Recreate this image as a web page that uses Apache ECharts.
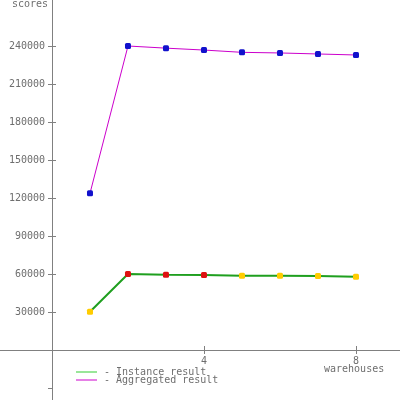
<!DOCTYPE html>
<html>
<head>
<meta charset="utf-8">
<script src="https://cdn.jsdelivr.net/npm/echarts@6/dist/echarts.min.js"></script>
<style>html,body{margin:0;padding:0;background:#fff}#c{width:400px;height:400px}</style>
</head>
<body>
<div id="c"></div>
<script>
var warehouses = [1, 2, 3, 4, 5, 6, 7, 8];
var instanceResult = [30200, 60000, 59500, 59200, 58700, 58700, 58400, 57900];
var aggregatedResult = [123700, 240000, 238300, 236800, 235000, 234500, 233700, 232900];
var yTickValues = [-30000, 30000, 60000, 90000, 120000, 150000, 180000, 210000, 240000];
var yLabelValues = [30000, 60000, 90000, 120000, 150000, 180000, 210000, 240000];
var xTickValues = [4, 8];
var seriesNames = ['Instance result', 'Aggregated result'];

function pairs(xs, ys) { return xs.map(function (x, i) { return [x, ys[i]]; }); }

var font = 'DejaVu Sans Mono';
var gray = '#808080';
var txt = '#6e6e6e';
var X_MIN = -1.368, X_MAX = 9.158, Y_MIN = -39474, Y_MAX = 276316;
var chart = echarts.init(document.getElementById('c'), null, {renderer: 'canvas'});

chart.setOption({
  animation: false,
  backgroundColor: '#ffffff',
  grid: [
    {left: 0, right: 0, top: 0, bottom: 0, containLabel: false, outerBoundsMode: 'none'},
    {left: 52, right: 0, top: 0, bottom: 50, containLabel: false, outerBoundsMode: 'none'}
  ],
  xAxis: [{
    gridIndex: 0, type: 'value', min: X_MIN, max: X_MAX, position: 'bottom',
    axisLine: {onZero: true, lineStyle: {color: gray, width: 1}},
    axisTick: {show: true, length: 4, customValues: xTickValues, lineStyle: {color: gray}},
    axisLabel: {show: false},
    splitLine: {show: false}
  }, {
    gridIndex: 1, type: 'value', min: 0, max: X_MAX, position: 'bottom',
    axisLine: {show: false, onZero: false},
    axisTick: {show: true, inside: true, length: 4, customValues: xTickValues, lineStyle: {color: gray}},
    axisLabel: {show: true, customValues: xTickValues, margin: 6, color: txt, fontFamily: font, fontSize: 10,
      formatter: function (v) { return String(v); }},
    splitLine: {show: false}
  }],
  yAxis: [{
    gridIndex: 0, type: 'value', min: Y_MIN, max: Y_MAX, position: 'left',
    axisLine: {onZero: true, lineStyle: {color: gray, width: 1}},
    axisTick: {show: true, length: 4, customValues: yTickValues, lineStyle: {color: gray}},
    axisLabel: {show: false},
    splitLine: {show: false}
  }, {
    gridIndex: 1, type: 'value', min: 0, max: Y_MAX, position: 'left',
    axisLine: {show: false, onZero: false},
    axisTick: {show: true, inside: true, length: 4, customValues: yLabelValues, lineStyle: {color: gray}},
    axisLabel: {show: true, customValues: yLabelValues, margin: 7, color: txt, fontFamily: font, fontSize: 10,
      formatter: function (v) { return String(v); }},
    splitLine: {show: false}
  }],
  legend: {
    orient: 'vertical', left: 76, top: 367, itemGap: -2, padding: 0,
    itemWidth: 21, itemHeight: 1, icon: 'rect',
    formatter: '- {name}',
    textStyle: {color: txt, fontFamily: font, fontSize: 10, lineHeight: 8, padding: [0, 0, 0, 2]},
    data: [
      {name: seriesNames[0], itemStyle: {color: '#33cc33'}},
      {name: seriesNames[1], itemStyle: {color: '#cc00cc'}}
    ]
  },
  graphic: [
    {type: 'text', left: 12, top: -1, style: {text: 'scores', fill: txt, font: '10px "DejaVu Sans Mono"'}},
    {type: 'text', left: 324, top: 364, style: {text: 'warehouses', fill: txt, font: '10px "DejaVu Sans Mono"'}}
  ],
  series: [
    {
      name: seriesNames[0], type: 'line', xAxisIndex: 0, yAxisIndex: 0,
      data: pairs(warehouses, instanceResult),
      color: '#1f9f1f',
      lineStyle: {color: '#1f9f1f', width: 2},
      symbol: 'roundRect', symbolSize: 6, showAllSymbol: true,
      itemStyle: {color: function (p) { return (p.dataIndex >= 1 && p.dataIndex <= 3) ? '#dd1111' : '#ffcc00'; }},
      emphasis: {disabled: true}, z: 3
    },
    {
      name: seriesNames[1], type: 'line', xAxisIndex: 0, yAxisIndex: 0,
      data: pairs(warehouses, aggregatedResult),
      color: '#cc00cc',
      lineStyle: {color: '#cc00cc', width: 1},
      symbol: 'roundRect', symbolSize: 6, showAllSymbol: true,
      itemStyle: {color: '#1111cc'},
      emphasis: {disabled: true}, z: 3
    }
  ]
});
</script>
</body>
</html>
